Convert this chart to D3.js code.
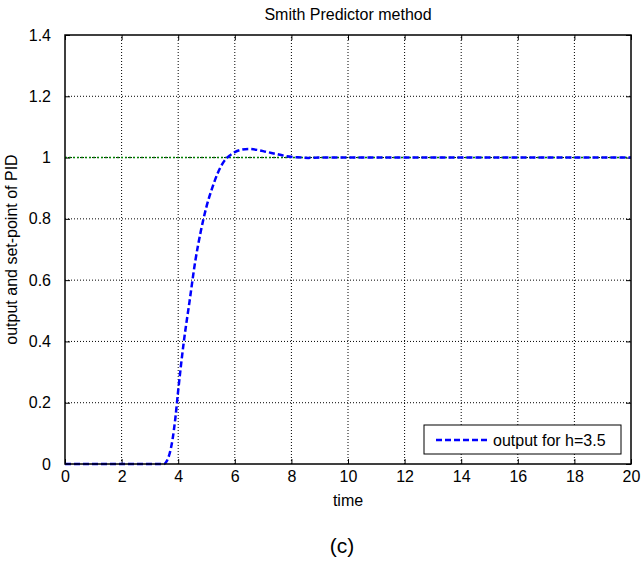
<!DOCTYPE html>
<html>
<head>
<meta charset="utf-8">
<script src="https://cdn.jsdelivr.net/npm/d3@7"></script>
<style>
  html, body { margin: 0; padding: 0; background: #fff; }
  svg { display: block; }
  text { font-family: "Liberation Sans", Arial, sans-serif; }
</style>
</head>
<body>
<svg id="chart" width="644" height="573"></svg>
<script>
// ---- data ----
const titleText = "Smith Predictor method";
const xLabel = "time";
const yLabel = "output and set-point of PID";
const caption = "(c)";
const legendLabel = "output for h=3.5";
const xTicks = [0, 2, 4, 6, 8, 10, 12, 14, 16, 18, 20];
const yTicks = [0, 0.2, 0.4, 0.6, 0.8, 1, 1.2, 1.4];
const setpointTime = [0, 20];
const setpointValue = [1, 1];
const outputTime = [0, 3.5, 3.6, 3.7, 3.8, 3.9, 4.0, 4.2, 4.4, 4.6, 4.8, 5.0, 5.2, 5.4, 5.6, 5.8, 6.0, 6.2, 6.5, 6.8, 7.1, 7.5, 7.8, 8.2, 8.6, 9, 20];
const outputValue = [0, 0, 0.01, 0.035, 0.08, 0.15, 0.24, 0.40, 0.53, 0.66, 0.76, 0.84, 0.90, 0.95, 0.985, 1.005, 1.018, 1.025, 1.028, 1.025, 1.019, 1.011, 1.005, 1.001, 0.999, 1.0, 1.0];

// ---- layout ----
const svg = d3.select("#chart");
const x = d3.scaleLinear().domain([0, 20]).range([65, 631]);
const y = d3.scaleLinear().domain([0, 1.4]).range([464, 35]);
const fs = 16;

// grid
const grid = svg.append("g");
grid.selectAll("line.gx").data(xTicks.slice(1, -1)).join("line")
  .attr("x1", d => x(d)).attr("x2", d => x(d))
  .attr("y1", y(0)).attr("y2", y(1.4))
  .attr("stroke", "#000").attr("stroke-width", 1).attr("stroke-dasharray", "1,2");
grid.selectAll("line.gy").data(yTicks.slice(1, -1)).join("line")
  .attr("x1", x(0)).attr("x2", x(20))
  .attr("y1", d => y(d)).attr("y2", d => y(d))
  .attr("stroke", "#000").attr("stroke-width", 1).attr("stroke-dasharray", "1,2");

// axes (inward ticks)
const axB = d3.axisBottom(x).tickValues(xTicks).tickSize(-5).tickPadding(7).tickFormat(d3.format("~g"));
const axT = d3.axisTop(x).tickValues(xTicks).tickSize(-5).tickFormat("");
const axL = d3.axisLeft(y).tickValues(yTicks).tickSize(-5).tickPadding(14).tickFormat(d3.format("~g"));
const axR = d3.axisRight(y).tickValues(yTicks).tickSize(-5).tickFormat("");

function styleAxis(g) {
  g.select(".domain").remove();
  g.selectAll("line").attr("stroke", "#000");
  g.selectAll("text").attr("font-size", fs).attr("fill", "#000")
    .attr("font-family", "Liberation Sans, Arial, sans-serif");
}
svg.append("g").attr("transform", `translate(0,${y(0)})`).call(axB).call(styleAxis);
svg.append("g").attr("transform", `translate(0,${y(1.4)})`).call(axT).call(styleAxis);
svg.append("g").attr("transform", `translate(${x(0)},0)`).call(axL).call(styleAxis);
svg.append("g").attr("transform", `translate(${x(20)},0)`).call(axR).call(styleAxis);

// lines
const lineGen = d3.line().x(d => x(d[0])).y(d => y(d[1])).curve(d3.curveMonotoneX);
svg.append("path")
  .datum(setpointTime.map((t, i) => [t, setpointValue[i]]))
  .attr("d", d3.line().x(d => x(d[0])).y(d => y(d[1])))
  .attr("fill", "none").attr("stroke", "#008000").attr("stroke-width", 1.5)
  .attr("stroke-dasharray", "2,2");
svg.append("path")
  .datum(outputTime.map((t, i) => [t, outputValue[i]]))
  .attr("d", lineGen)
  .attr("fill", "none").attr("stroke", "#0000ff").attr("stroke-width", 2.5)
  .attr("stroke-dasharray", "6,3");

// box
svg.append("rect")
  .attr("x", x(0)).attr("y", y(1.4))
  .attr("width", x(20) - x(0)).attr("height", y(0) - y(1.4))
  .attr("fill", "none").attr("stroke", "#000").attr("stroke-width", 1.5);

// legend
const lg = svg.append("g");
lg.append("rect").attr("x", 424).attr("y", 425).attr("width", 197).attr("height", 29)
  .attr("fill", "#fff").attr("stroke", "#000").attr("stroke-width", 1);
lg.append("line").attr("x1", 436).attr("x2", 487).attr("y1", 440).attr("y2", 440)
  .attr("stroke", "#0000ff").attr("stroke-width", 2.5).attr("stroke-dasharray", "6,3");
lg.append("text").attr("x", 493).attr("y", 446).attr("font-size", fs).text(legendLabel);

// titles
svg.append("text").attr("x", (x(0) + x(20)) / 2).attr("y", 20)
  .attr("text-anchor", "middle").attr("font-size", fs).text(titleText);
svg.append("text").attr("x", (x(0) + x(20)) / 2).attr("y", 506)
  .attr("text-anchor", "middle").attr("font-size", fs).text(xLabel);
svg.append("text")
  .attr("transform", `translate(17,${(y(0) + y(1.4)) / 2}) rotate(-90)`)
  .attr("text-anchor", "middle").attr("font-size", fs).text(yLabel);
svg.append("text").attr("x", 342).attr("y", 553)
  .attr("text-anchor", "middle").attr("font-size", 21)
  .attr("font-family", "Lato, 'Open Sans', sans-serif").text(caption);
</script>
</body>
</html>
